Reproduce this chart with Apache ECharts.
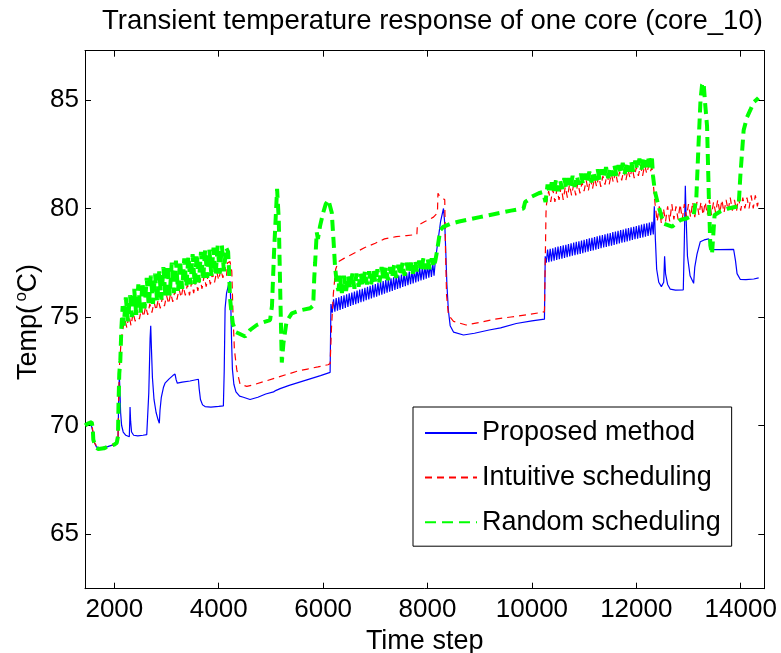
<!DOCTYPE html>
<html>
<head>
<meta charset="utf-8" />
<title>Transient temperature response of one core (core_10)</title>
<script src="https://cdn.jsdelivr.net/npm/echarts@6/dist/echarts.min.js"></script>
<style>
  html, body { margin: 0; padding: 0; background: #fff; }
  #chartmain { width: 781px; height: 653px; }
</style>
</head>
<body>
<div id="chartmain"></div>
<script type="text/javascript">
// tick positions
var xTicks = [2000, 4000, 6000, 8000, 10000, 12000, 14000];
var yTicks = [65, 70, 75, 80, 85];
var seriesNames = ['Proposed method', 'Intuitive scheduling', 'Random scheduling'];

// Proposed method (blue), [time step, temp]
var proposed = [
  [1440,70.05],[1500,70.1],[1540,70.2],[1566,70.15],[1590,69.7],[1620,69.2],[1660,69.0],[1693,68.93],[1800,68.95],[1900,69.05],[2000,69.12],[2046,69.18],[2070,69.3],[2082,71.0],[2095,72.3],[2105,71.8],[2120,70.6],[2140,70.0],[2170,69.7],[2220,69.55],[2287,69.48],[2295,70.2],[2301,70.85],[2312,70.2],[2330,69.7],[2370,69.55],[2450,69.52],[2550,69.55],[2621,69.58],[2660,71.5],[2685,74.0],[2697,74.6],[2710,73.6],[2730,72.2],[2760,71.2],[2800,70.6],[2840,70.25],[2862,70.1],[2875,70.7],[2900,71.3],[2940,71.75],[2971,71.95],[3050,72.15],[3120,72.3],[3163,72.37],[3185,72.1],[3207,71.95],[3300,72.0],[3450,72.05],[3610,72.13],[3625,71.7],[3650,71.2],[3690,70.95],[3738,70.87],[3850,70.85],[4000,70.88],[4089,70.9],
  [4105,72.5],[4122,75.4],[4150,76.1],[4190,76.5],[4217,76.65],[4232,75.5],[4245,74.0],[4262,72.6],[4290,71.9],[4330,71.55],[4400,71.35],[4472,71.3],[4600,71.2],[4750,71.3],[4900,71.45],[5050,71.55],[5100,71.62],[5176,71.7],[5350,71.85],[5550,72.0],[5750,72.15],[5950,72.3],[6134,72.45],
  [6150,75.6],[6175,75.2],[6200,75.82],[6225,75.24],[6250,75.87],[6275,75.29],[6300,75.91],[6325,75.33],[6350,75.96],[6375,75.37],[6400,76.0],[6425,75.42],[6450,76.04],[6475,75.46],[6500,76.09],[6525,75.51],[6550,76.13],[6575,75.55],[6600,76.17],[6625,75.59],[6650,76.22],[6675,75.64],[6700,76.26],[6725,75.68],[6750,76.3],[6775,75.72],[6800,76.35],[6825,75.77],[6850,76.39],[6875,75.81],[6900,76.44],[6925,75.86],[6950,76.48],[6975,75.9],[7000,76.52],[7025,75.94],[7050,76.57],[7075,75.99],[7100,76.61],[7125,76.03],[7150,76.65],[7175,76.07],[7200,76.7],[7225,76.12],[7250,76.74],[7275,76.16],[7300,76.78],[7325,76.2],[7350,76.83],[7375,76.25],[7400,76.87],[7425,76.29],[7450,76.91],[7475,76.33],[7500,76.96],[7525,76.38],[7550,77.0],[7575,76.42],[7600,77.04],[7625,76.46],[7650,77.09],[7675,76.51],[7700,77.13],[7725,76.55],[7750,77.17],[7775,76.59],[7800,77.22],[7825,76.64],[7850,77.26],[7875,76.68],[7900,77.3],[7925,76.72],[7950,77.35],[7975,76.77],[8000,77.39],[8025,76.81],[8050,77.43],[8075,76.85],[8100,77.48],[8125,76.9],
  [8150,77.6],[8200,78.5],[8250,79.4],[8306,80.0],[8330,79.3],[8350,78.0],[8371,76.5],[8400,75.3],[8434,74.6],[8500,74.3],[8689,74.17],[8900,74.25],[9180,74.4],[9400,74.5],[9700,74.7],[10000,74.82],[10240,74.9],[10255,77.8],
  [10275,77.5],[10300,78.11],[10325,77.53],[10350,78.14],[10375,77.56],[10400,78.17],[10425,77.59],[10450,78.21],[10475,77.63],[10500,78.24],[10525,77.66],[10550,78.27],[10575,77.69],[10600,78.3],[10625,77.72],[10650,78.33],[10675,77.75],[10700,78.36],[10725,77.79],[10750,78.4],[10775,77.82],[10800,78.43],[10825,77.85],[10850,78.46],[10875,77.88],[10900,78.49],[10925,77.91],[10950,78.52],[10975,77.94],[11000,78.56],[11025,77.98],[11050,78.59],[11075,78.01],[11100,78.62],[11125,78.04],[11150,78.65],[11175,78.07],[11200,78.68],[11225,78.1],[11250,78.72],[11275,78.13],[11300,78.75],[11325,78.17],[11350,78.78],[11375,78.2],[11400,78.81],[11425,78.23],[11450,78.84],[11475,78.26],[11500,78.87],[11525,78.29],[11550,78.91],[11575,78.32],[11600,78.94],[11625,78.36],[11650,78.97],[11675,78.39],[11700,79.0],[11725,78.42],[11750,79.03],[11775,78.45],[11800,79.07],[11825,78.48],[11850,79.1],[11875,78.51],[11900,79.13],[11925,78.55],[11950,79.16],[11975,78.58],[12000,79.19],[12025,78.61],[12050,79.22],[12075,78.64],[12100,79.26],[12125,78.67],[12150,79.29],[12175,78.7],[12200,79.32],[12225,78.74],[12250,79.35],[12275,78.77],[12300,79.38],[12325,78.8],
  [12345,80.1],[12365,78.6],[12390,77.2],[12430,76.6],[12480,76.4],[12525,76.6],[12542,77.8],[12560,77.0],[12600,76.5],[12651,76.28],[12750,76.24],[12900,76.25],[12920,78.5],[12939,81.05],[12955,79.5],[12980,77.8],[13030,76.9],[13098,76.55],[13120,77.3],[13163,77.9],[13226,78.47],[13300,78.55],[13386,78.6],[13410,78.3],[13450,78.1],[13600,78.1],[13864,78.12],[13900,77.6],[13930,77.0],[13993,76.73],[14100,76.72],[14250,76.75],[14344,76.8]
];

// Intuitive scheduling (red)
var intuitive = [
  [1440,70.05],[1500,70.1],[1566,70.15],[1590,69.7],[1620,69.2],[1693,68.95],[1900,69.05],[2046,69.18],[2070,69.4],[2085,71.5],[2100,72.8],[2130,73.9],[2160,74.4],
  [2200,74.9],[2240,74.5],[2280,75.1],[2320,74.6],[2360,75.2],[2400,74.8],[2440,75.3],[2480,74.9],[2520,75.4],[2560,75.0],[2600,75.5],[2640,75.1],[2680,75.6],[2720,75.2],[2760,75.7],[2800,75.3],[2840,75.8],[2880,75.4],[2920,75.9],[2960,75.5],[3000,76.0],[3040,75.6],[3080,76.1],[3120,75.7],[3160,76.2],[3200,75.8],[3240,76.3],[3280,75.9],[3320,76.4],[3360,76.0],[3400,76.5],[3440,76.0],[3480,76.6],[3520,76.1],[3560,76.7],[3600,76.2],[3640,76.8],[3680,76.3],[3720,76.9],[3760,76.4],[3800,77.0],[3840,76.5],[3880,77.0],[3920,76.6],[3960,77.1],[4000,76.7],[4040,77.2],[4080,76.8],[4120,77.3],[4150,76.9],
  [4170,77.5],[4217,77.55],[4250,77.1],[4275,75.0],[4300,73.5],[4346,72.56],[4409,71.9],[4537,71.8],[4700,71.9],[4900,72.05],[5100,72.2],[5300,72.35],[5500,72.5],[5700,72.6],[5900,72.7],[6093,72.8],[6134,72.85],[6160,74.5],[6197,76.1],[6240,77.2],[6293,77.55],[6400,77.7],[6600,77.95],[6800,78.2],[7000,78.4],[7176,78.6],[7400,78.7],[7600,78.75],[7796,78.8],[7805,79.2],[7950,79.4],[8114,79.6],[8190,79.8],[8200,80.7],[8225,80.6],[8330,80.4],[8345,78.0],[8365,76.0],[8400,75.1],[8498,74.8],[8740,74.63],[9000,74.75],[9300,74.9],[9600,75.0],[9900,75.1],[10200,75.22],[10240,75.25],[10255,77.5],[10270,79.8],
  [10280,80.2],[10320,80.8],[10360,80.3],[10400,80.9],[10440,80.3],[10480,80.9],[10520,80.4],[10560,81.0],[10600,80.4],[10640,81.0],[10680,80.5],[10720,81.1],[10760,80.6],[10800,81.1],[10840,80.6],[10880,81.2],[10920,80.7],[10960,81.2],[11000,80.8],[11040,81.3],[11080,80.8],[11120,81.4],[11160,80.9],[11200,81.4],[11240,81.0],[11280,81.5],[11320,81.0],[11360,81.5],[11400,81.1],[11440,81.6],[11480,81.1],[11520,81.6],[11560,81.2],[11600,81.7],[11640,81.2],[11680,81.7],[11720,81.3],[11760,81.8],[11800,81.3],[11840,81.8],[11880,81.4],[11920,81.9],[11960,81.4],[12000,81.9],[12040,81.5],[12080,82.0],[12120,81.5],[12160,82.0],[12200,81.6],[12240,82.0],[12270,81.7],
  [12300,81.9],[12330,81.0],
  [12360,80.2],[12400,79.4],[12440,80.1],[12480,79.3],[12520,80.0],[12560,79.4],[12600,80.1],[12640,79.4],[12680,80.2],[12720,79.5],[12760,80.1],[12800,79.5],[12840,80.2],[12880,79.5],[12920,80.2],[12960,79.6],[13000,80.2],[13040,79.6],[13080,80.3],[13120,79.6],[13160,80.3],[13200,79.7],[13240,80.3],[13280,79.7],[13320,80.3],[13360,79.7],[13400,80.4],[13440,79.7],[13480,80.3],[13520,79.8],[13560,80.4],[13600,79.8],[13640,80.4],[13680,79.8],[13720,80.4],[13760,79.9],[13800,80.5],[13840,79.9],[13880,80.4],[13920,79.9],[13960,80.5],[14000,79.9],[14040,80.5],[14080,80.0],[14120,80.5],[14160,80.0],[14200,80.6],[14240,80.0],[14280,80.6],[14320,80.1],[14344,80.4]
];

// Random scheduling (green)
var random = [
  [1440,70.0],[1500,70.1],[1566,70.15],[1586,69.9],[1597,69.35],[1640,69.0],[1693,68.92],[1800,68.95],[1900,69.05],[2000,69.12],[2046,69.2],[2070,69.5],[2080,71.0],[2095,72.4],[2115,73.0],[2135,74.5],[2160,75.5],
  [2180,74.6],[2220,75.9],[2260,74.8],[2300,76.0],[2340,75.0],[2380,76.3],[2420,75.1],[2460,76.5],[2500,75.2],[2540,76.6],[2580,75.4],[2620,76.8],[2660,75.5],[2700,76.9],[2740,75.6],[2780,77.0],[2820,75.7],[2860,77.1],[2900,75.8],[2940,77.3],[2980,75.9],[3020,77.4],[3060,76.0],[3100,77.5],[3140,76.1],[3180,77.6],[3220,76.2],[3260,77.6],[3300,76.3],[3340,77.7],[3380,76.4],[3420,77.8],[3460,76.5],[3500,77.9],[3540,76.5],[3580,77.9],[3620,76.6],[3660,78.0],[3700,76.7],[3740,78.1],[3780,76.8],[3820,78.1],[3860,76.9],[3900,78.2],[3940,76.9],[3980,78.3],[4020,77.0],[4060,78.3],[4100,77.1],[4140,78.2],
  [4180,78.0],[4200,77.0],[4215,75.9],[4240,75.3],[4270,74.7],[4330,74.3],[4376,74.25],[4505,74.1],[4600,74.4],[4729,74.63],[4850,74.75],[4984,74.86],[5020,75.5],[5060,78.0],[5100,80.0],[5118,80.9],[5150,79.5],[5180,76.0],[5208,72.9],[5240,73.8],[5300,74.8],[5400,75.17],[5550,75.3],[5751,75.4],[5800,75.5],[5814,75.8],[5830,76.8],[5847,77.5],[5878,78.9],[5900,78.6],[5942,79.2],[6000,79.8],[6050,80.2],[6100,80.4],[6134,80.45],[6166,79.8],[6200,78.5],[6229,77.3],[6260,76.6],[6293,76.2],
  [6320,76.9],[6360,76.1],[6400,76.9],[6440,76.2],[6480,76.9],[6520,76.3],[6560,77.0],[6600,76.3],[6640,77.0],[6680,76.4],[6720,77.0],[6760,76.4],[6800,77.1],[6840,76.5],[6880,77.1],[6920,76.5],[6960,77.2],[7000,76.6],[7040,77.2],[7080,76.6],[7120,77.3],[7160,76.7],[7200,77.3],[7240,76.7],[7280,77.3],[7320,76.8],[7360,77.4],[7400,76.8],[7440,77.4],[7480,76.9],[7520,77.5],[7560,76.9],[7600,77.5],[7640,77.0],[7680,77.5],[7720,77.0],[7760,77.6],[7800,77.1],[7840,77.6],[7880,77.1],[7920,77.7],[7960,77.2],[8000,77.7],[8040,77.2],[8080,77.7],[8120,77.3],
  [8150,77.6],[8180,78.0],[8243,79.0],[8300,79.15],[8450,79.3],[8606,79.4],[8800,79.5],[9000,79.6],[9200,79.7],[9400,79.8],[9600,79.9],[9839,80.0],[9870,80.3],[9935,80.4],[10000,80.55],[10131,80.7],[10200,80.75],[10230,80.6],[10260,80.3],
  [10300,81.1],[10340,80.7],[10380,81.2],[10420,80.8],[10460,81.3],[10500,80.8],[10540,81.3],[10580,80.9],[10620,81.4],[10660,80.9],[10700,81.4],[10740,81.0],[10780,81.5],[10820,81.0],[10860,81.5],[10900,81.1],[10940,81.6],[10980,81.1],[11020,81.6],[11060,81.2],[11100,81.7],[11140,81.2],[11180,81.7],[11220,81.3],[11260,81.8],[11300,81.3],[11340,81.8],[11380,81.4],[11420,81.9],[11460,81.4],[11500,81.9],[11540,81.5],[11580,82.0],[11620,81.5],[11660,82.0],[11700,81.6],[11740,82.1],[11780,81.6],[11820,82.1],[11860,81.7],[11900,82.2],[11940,81.7],[11980,82.2],[12020,81.8],[12060,82.3],[12100,81.8],[12140,82.3],[12180,81.9],[12220,82.4],[12260,81.9],
  [12300,82.3],[12320,81.5],[12345,81.0],[12364,80.7],[12427,80.1],[12523,79.3],[12684,79.16],[12843,79.47],[12971,79.55],[13100,79.7],[13150,80.5],[13193,83.0],[13230,85.0],[13260,85.7],[13289,85.8],[13320,84.8],[13355,83.8],[13390,80.5],[13418,78.3],[13450,77.9],[13475,78.8],[13500,79.7],[13600,79.85],[13760,80.0],[13960,80.1],[13993,81.5],[14056,83.6],[14120,84.2],[14185,84.54],[14250,84.9],[14313,85.03],[14340,85.1]
];

var FONT = '"Liberation Sans", Arial, Helvetica, sans-serif';
var X_MIN = 1438, X_MAX = 14452;
var Y_MIN = 62.48, Y_MAX = 87.27;

function mirrorTicks(vals) {
  return { show: true, inside: true, length: 6, customValues: vals, lineStyle: { color: '#000', width: 1 } };
}

var myChart = echarts.init(document.getElementById('chartmain'), null, { renderer: 'canvas' });

var option = {
  animation: false,
  backgroundColor: '#fff',
  title: {
    text: 'Transient temperature response of one core (core_10)',
    left: 97,
    top: 2,
    textStyle: { fontFamily: FONT, fontSize: 27.5, fontWeight: 'normal', color: '#000' }
  },
  legend: {
    data: seriesNames,
    orient: 'vertical',
    left: 413,
    top: 407,
    itemWidth: 52,
    itemHeight: 12,
    itemGap: 14.6,
    padding: [11, 11, 9, 11],
    borderColor: '#000',
    borderWidth: 1,
    borderRadius: 0,
    backgroundColor: '#fff',
    selectedMode: false,
    itemStyle: { opacity: 0 },
    textStyle: { fontFamily: FONT, fontSize: 27, lineHeight: 30, color: '#000' }
  },
  // y axis name with a raised "o"
  graphic: [{
    type: 'group',
    x: 29, y: 322,
    rotation: Math.PI / 2,
    children: [
      { type: 'text', x: -58, y: 0, style: { text: 'Temp(', font: '27px ' + FONT, fill: '#000', align: 'left', verticalAlign: 'middle' } },
      { type: 'text', x: 20.5, y: -8, style: { text: 'o', font: '17px ' + FONT, fill: '#000', align: 'left', verticalAlign: 'middle' } },
      { type: 'text', x: 29.5, y: 0, style: { text: 'C)', font: '27px ' + FONT, fill: '#000', align: 'left', verticalAlign: 'middle' } }
    ]
  }],
  grid: { left: 85, right: 16.7, top: 50.7, bottom: 64.3, containLabel: false, outerBoundsMode: 'none' },
  xAxis: [
    {
      type: 'value', position: 'bottom', min: X_MIN, max: X_MAX,
      axisLine: { show: true, onZero: false, lineStyle: { color: '#000', width: 1 } },
      axisTick: mirrorTicks(xTicks),
      axisLabel: { customValues: xTicks, margin: 8, color: '#000', fontSize: 26, fontFamily: FONT,
        formatter: function (v) { return String(v); } },
      splitLine: { show: false },
      name: 'Time step', nameLocation: 'middle', nameGap: 31,
      nameTextStyle: { fontFamily: FONT, fontSize: 27, color: '#000' }
    },
    {
      type: 'value', position: 'top', min: X_MIN, max: X_MAX,
      axisLine: { show: true, onZero: false, lineStyle: { color: '#000', width: 1 } },
      axisTick: mirrorTicks(xTicks),
      axisLabel: { show: false },
      splitLine: { show: false }
    }
  ],
  yAxis: [
    {
      type: 'value', position: 'left', min: Y_MIN, max: Y_MAX,
      axisLine: { show: true, onZero: false, lineStyle: { color: '#000', width: 1 } },
      axisTick: mirrorTicks(yTicks),
      axisLabel: { customValues: yTicks, margin: 6, color: '#000', fontSize: 26, fontFamily: FONT,
        formatter: function (v) { return String(v); } },
      splitLine: { show: false }
    },
    {
      type: 'value', position: 'right', min: Y_MIN, max: Y_MAX,
      axisLine: { show: true, onZero: false, lineStyle: { color: '#000', width: 1 } },
      axisTick: mirrorTicks(yTicks),
      axisLabel: { show: false },
      splitLine: { show: false }
    }
  ],
  series: [
    {
      name: seriesNames[0], type: 'line', data: proposed,
      symbol: 'none', showSymbol: false,
      lineStyle: { color: '#0000ff', width: 1.2, type: 'solid' },
      itemStyle: { color: '#0000ff' }
    },
    {
      name: seriesNames[1], type: 'line', data: intuitive,
      symbol: 'none', showSymbol: false,
      lineStyle: { color: '#ff0000', width: 1.2, type: [7, 5] },
      itemStyle: { color: '#ff0000' }
    },
    {
      name: seriesNames[2], type: 'line', data: random,
      symbol: 'none', showSymbol: false,
      lineStyle: { color: '#00ff00', width: 4, type: [11, 6] },
      itemStyle: { color: '#00ff00' }
    }
  ]
};
myChart.setOption(option);
</script>
</body>
</html>
